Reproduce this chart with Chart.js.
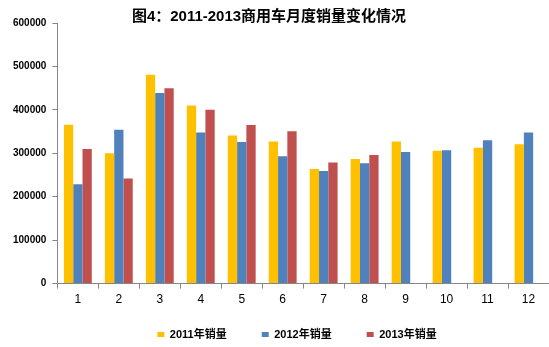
<!DOCTYPE html>
<html>
<head>
<meta charset="utf-8">
<script src="https://cdn.jsdelivr.net/npm/chart.js@4"></script>
<style>
  html, body { margin: 0; padding: 0; background: #fff; overflow: hidden; }
  .wrap { position: relative; width: 549px; height: 347px; }
</style>
</head>
<body>
<div class="wrap"><canvas id="salesChart"></canvas></div>
<script>
const months = ['1', '2', '3', '4', '5', '6', '7', '8', '9', '10', '11', '12'];
const sales2011 = [366000, 300000, 481000, 410000, 341000, 327000, 264000, 287000, 327000, 306000, 313000, 321000];
const sales2012 = [229000, 354000, 439000, 348000, 326000, 293000, 259000, 277000, 303000, 307000, 330000, 348000];
const sales2013 = [310000, 242000, 450000, 400000, 365000, 351000, 279000, 296000, null, null, null, null];
const yTicks = [0, 100000, 200000, 300000, 400000, 500000, 600000];

const CJK = '"Liberation Sans", "Noto Sans CJK SC", sans-serif';
const axisGrey = '#868686';

// legend padding is wide for the item spacing, so pull the row back up
// under the month labels and slide it a bit right; title a touch left
const boxNudge = {
  id: 'boxNudge',
  afterLayout(chart) {
    const lg = chart.legend;
    if (lg) {
      lg.left += 19; lg.right += 19;
      lg.top -= 17; lg.bottom -= 17;
    }
    const tb = chart.titleBlock;
    if (tb) { tb.left -= 9; tb.right -= 9; }
  }
};

new Chart(document.getElementById('salesChart'), {
  type: 'bar',
  data: {
    labels: months,
    datasets: [
      { label: '2011年销量', data: sales2011, backgroundColor: '#FFC000' },
      { label: '2012年销量', data: sales2012, backgroundColor: '#4F81BD' },
      { label: '2013年销量', data: sales2013, backgroundColor: '#C0504D' }
    ]
  },
  options: {
    responsive: true,
    maintainAspectRatio: false,
    animation: false,
    datasets: { bar: { categoryPercentage: 0.68, barPercentage: 1.0 } },
    layout: { padding: { left: 7, right: 0, top: 0, bottom: -20 } },
    plugins: {
      title: {
        display: true,
        text: '图4：2011-2013商用车月度销量变化情况',
        color: '#000',
        font: { family: CJK, size: 15, weight: 'bold' },
        padding: { top: 8, bottom: -3 }
      },
      legend: {
        position: 'bottom',
        labels: {
          boxWidth: 7, boxHeight: 5, padding: 35,
          color: '#000',
          font: { family: CJK, size: 11, weight: 'bold' }
        }
      },
      tooltip: { enabled: false }
    },
    scales: {
      x: {
        grid: { display: true, drawOnChartArea: false, drawTicks: true, tickLength: 5, offset: true, color: axisGrey },
        border: { display: true, color: axisGrey },
        ticks: { color: '#000', padding: 4, font: { family: '"Liberation Sans", sans-serif', size: 12 } }
      },
      y: {
        min: 0, max: 600000,
        afterBuildTicks(scale) { scale.ticks = yTicks.map(v => ({ value: v })); },
        grid: { display: true, drawOnChartArea: false, drawTicks: true, tickLength: 5, color: axisGrey },
        border: { display: true, color: axisGrey },
        ticks: {
          color: '#000', padding: 6,
          font: { family: '"Liberation Sans", sans-serif', size: 10, weight: 'bold' },
          callback: v => String(v)
        }
      }
    }
  },
  plugins: [boxNudge]
});
</script>
</body>
</html>
